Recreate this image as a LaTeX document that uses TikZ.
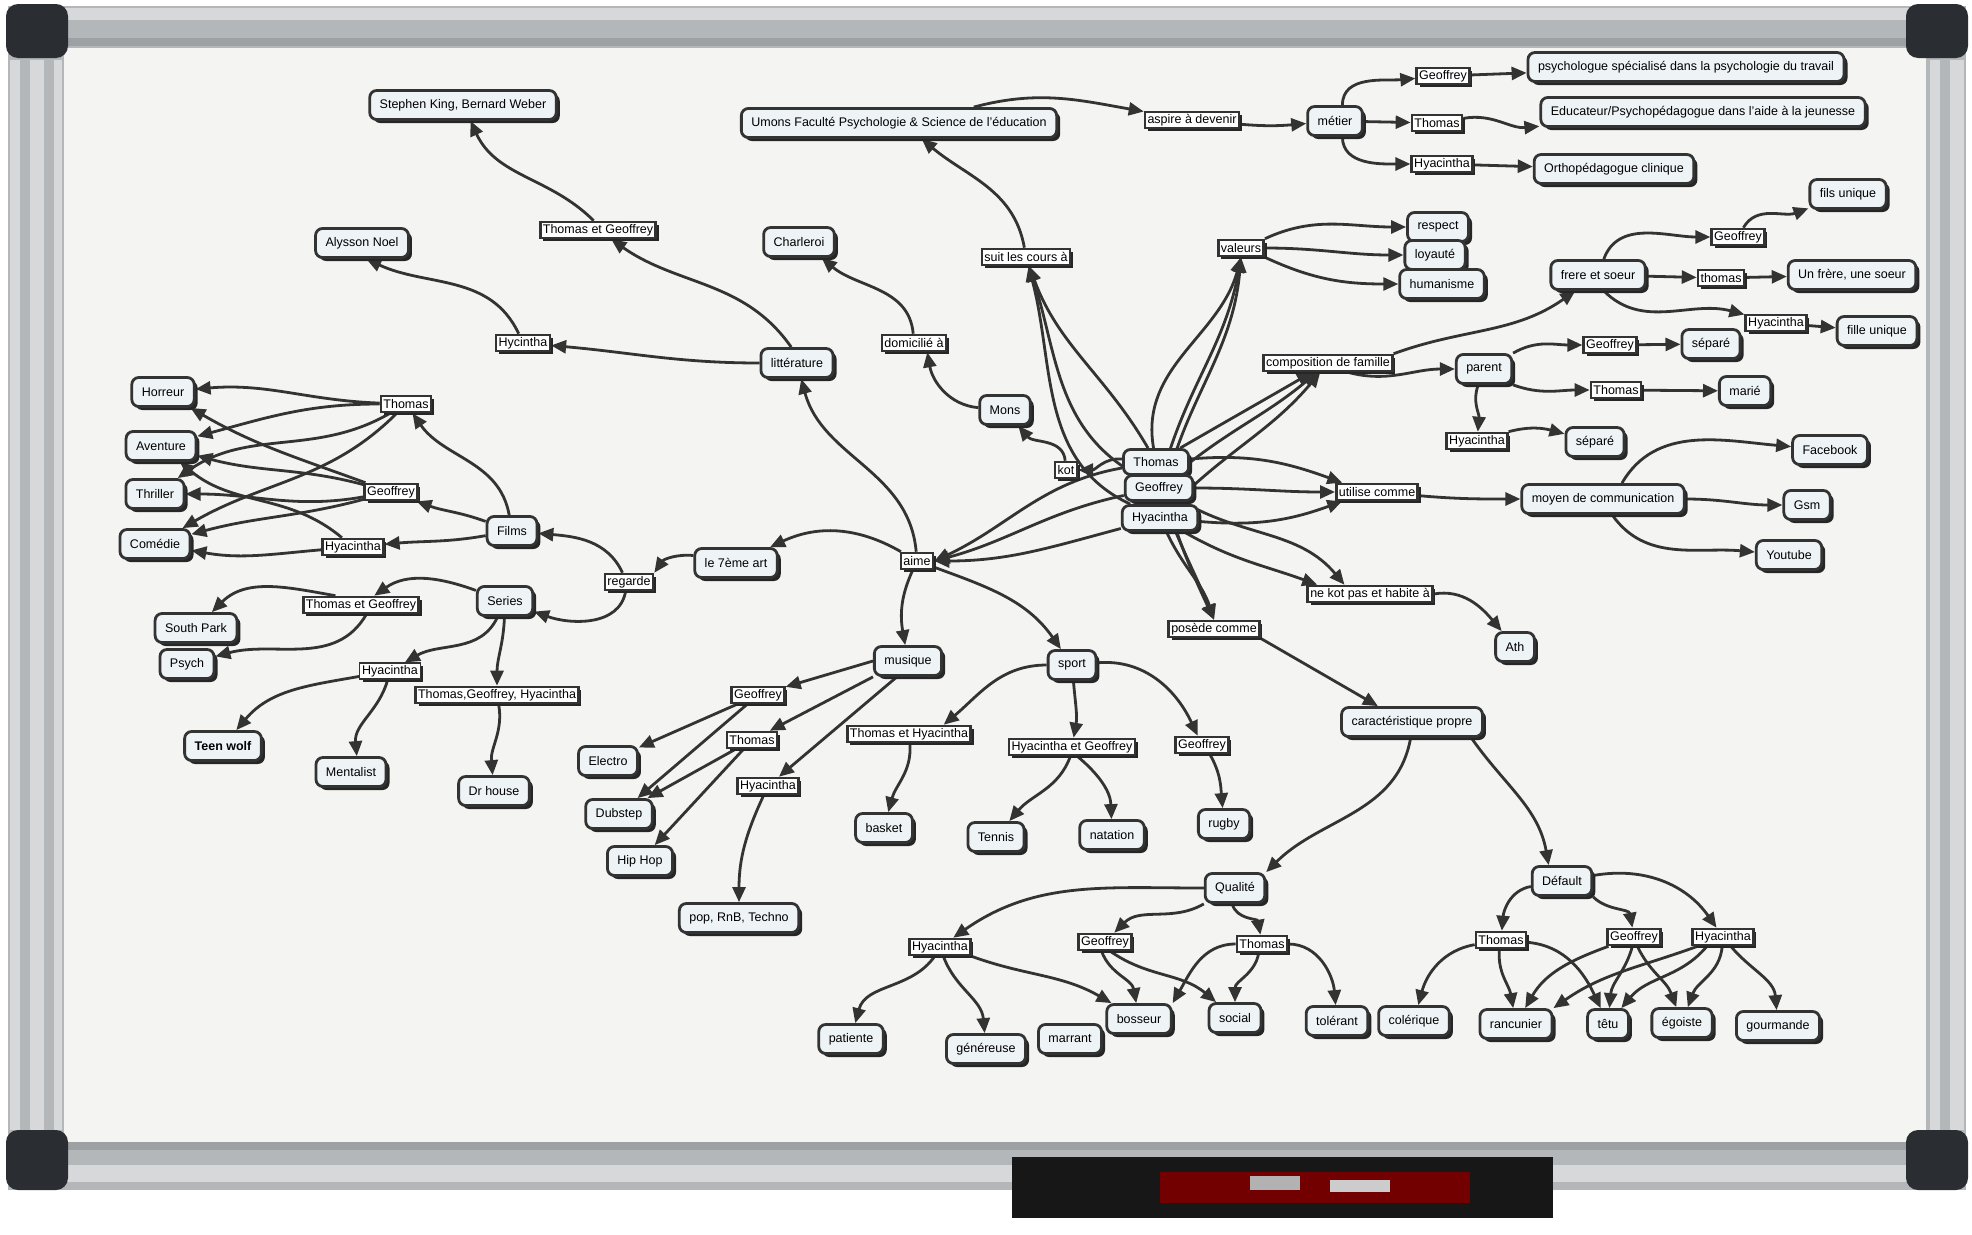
\documentclass[tikz,border=0pt]{standalone}
\usepackage{fontspec}
\setmainfont{Liberation Sans}
\usetikzlibrary{arrows.meta,shadows}
\definecolor{ln}{HTML}{333333}
\definecolor{cf}{HTML}{EEF3F6}
\definecolor{bd}{HTML}{F4F4F2}
\definecolor{sh}{HTML}{262626}
\definecolor{fra}{HTML}{B3B7BA}
\definecolor{frb}{HTML}{D6D8D9}
\definecolor{frc}{HTML}{9DA1A4}
\definecolor{cn}{HTML}{2A2D31}
\definecolor{tray}{HTML}{171717}
\newcommand{\myfont}{\fontsize{12.5}{14}\selectfont}
\pgfdeclarelayer{board}
\pgfdeclarelayer{edges}
\pgfsetlayers{board,edges,main}
\tikzset{
  con/.style={draw=ln, line width=2.8pt, fill=cf, rounded corners=7pt, inner xsep=10pt, inner ysep=2pt, minimum height=29pt, font=\myfont, text=black,
    drop shadow={shadow xshift=3.5pt,shadow yshift=-3.5pt,fill=sh,opacity=1}},
  lk/.style={draw=ln, line width=2.6pt, fill=white, inner xsep=2.5pt, inner ysep=1.5pt, minimum height=16pt, font=\myfont, text=black,
    drop shadow={shadow xshift=3pt,shadow yshift=-3pt,fill=sh,opacity=1}},
  lkthin/.style={lk, line width=1.2pt},
  cen/.style={con, minimum height=25pt},
  ar/.style={draw=ln, line width=2.8pt, -{Triangle[length=15pt,width=13pt]}}
}
\begin{document}
\begin{tikzpicture}[x=1pt,y=1pt]
\useasboundingbox (0,0) rectangle (1972,-1234);
\begin{pgfonlayer}{board}
\fill[white] (0,0) rectangle (1972,-1234);
\fill[fra] (8,-6) rectangle (1966,-1190);
\fill[frb] (60,-8) rectangle (1910,-20);
\fill[frc] (60,-38) rectangle (1910,-46);
\fill[frb] (10,-60) rectangle (20,-1130);
\fill[frb] (30,-60) rectangle (44,-1130);
\fill[frb] (54,-60) rectangle (62,-1130);
\fill[frb] (1930,-60) rectangle (1940,-1130);
\fill[frb] (1950,-60) rectangle (1964,-1130);
\fill[frc] (60,-1142) rectangle (1910,-1150);
\fill[frb] (60,-1165) rectangle (1910,-1182);
\fill[bd] (64,-48) rectangle (1926,-1142);
\fill[cn, rounded corners=12pt] (6,-4) rectangle (68,-58);
\fill[cn, rounded corners=12pt] (1906,-4) rectangle (1968,-58);
\fill[cn, rounded corners=12pt] (6,-1130) rectangle (68,-1190);
\fill[cn, rounded corners=12pt] (1906,-1130) rectangle (1968,-1190);
\fill[tray] (1012,-1157) rectangle (1553,-1218);
\fill[red!45!black] (1160,-1172) rectangle (1470,-1203);
\fill[gray!60] (1250,-1176) rectangle (1300,-1190);
\fill[gray!40] (1330,-1180) rectangle (1390,-1192);
\end{pgfonlayer}

% ---------- nodes ----------
\node[con] (sk) at (463,-105) {Stephen King, Bernard Weber};
\node[lk] (teg1) at (598,-230) {Thomas et Geoffrey};
\node[con] (an) at (362,-243) {Alysson Noel};
\node[lk] (hyc) at (523,-343) {Hycintha};
\node[con] (lit) at (797,-363) {littérature};
\node[con] (cha) at (799,-242) {Charleroi};
\node[lk] (dom) at (914,-343) {domicilié à};
\node[con] (mons) at (1005,-410) {Mons};
\node[lk] (kot) at (1066,-470) {kot};
\node[lk] (suit) at (1026,-257) {suit les cours à};
\node[con] (um) at (899,-123) {Umons Faculté Psychologie \& Science de l'éducation};
\node[lk] (asp) at (1192,-120) {aspire à devenir};
\node[con] (met) at (1335,-121) {métier};
\node[lk] (gm1) at (1443,-76) {Geoffrey};
\node[lk] (tm1) at (1437,-123) {Thomas};
\node[lk] (hm1) at (1442,-164) {Hyacintha};
\node[con] (psy1) at (1686,-67) {psychologue spécialisé dans la psychologie du travail};
\node[con] (edu) at (1703,-112) {Educateur/Psychopédagogue dans l'aide à la jeunesse};
\node[con] (ort) at (1614,-169) {Orthopédagogue clinique};
\node[lk] (val) at (1241,-248) {valeurs};
\node[con] (res) at (1438,-227) {respect};
\node[con] (loy) at (1435,-255) {loyauté};
\node[con] (hum) at (1442,-284) {humanisme};
\node[lk] (comp) at (1328,-363) {composition de famille};
\node[con] (fs) at (1598,-275) {frere et soeur};
\node[lk] (gfr) at (1738,-237) {Geoffrey};
\node[con] (fils) at (1848,-194) {fils unique};
\node[lk] (tfr) at (1721,-278) {thomas};
\node[con] (ufs) at (1852,-275) {Un frère, une soeur};
\node[lk] (hfr) at (1776,-323) {Hyacintha};
\node[con] (fu) at (1877,-331) {fille unique};
\node[con] (par) at (1484,-369) {parent};
\node[lk] (gp) at (1610,-345) {Geoffrey};
\node[con] (sep1) at (1711,-344) {séparé};
\node[lk] (tp) at (1616,-390) {Thomas};
\node[con] (mar) at (1745,-391) {marié};
\node[lk] (hyp) at (1477,-441) {Hyacintha};
\node[con] (sep2) at (1595,-442) {séparé};
\node[cen] (tc) at (1156,-462) {Thomas};
\node[cen] (gc) at (1159,-488) {Geoffrey};
\node[cen] (hc) at (1160,-518) {Hyacintha};
\node[lk] (ut) at (1377,-492) {utilise comme};
\node[con] (moy) at (1603,-499) {moyen de communication};
\node[con] (fb) at (1830,-450) {Facebook};
\node[con] (gsm) at (1807,-505) {Gsm};
\node[con] (yt) at (1789,-555) {Youtube};
\node[lk] (nkp) at (1370,-594) {ne kot pas et habite à};
\node[con] (ath) at (1515,-647) {Ath};
\node[lk] (pos) at (1214,-629) {posède comme};
\node[con] (car) at (1412,-722) {caractéristique propre};
\node[lk] (aime) at (917,-561) {aime};
\node[con] (art) at (736,-563) {le 7ème art};
\node[lk] (reg) at (629,-582) {regarde};
\node[con] (films) at (512,-531) {Films};
\node[lk] (thf) at (406,-404) {Thomas};
\node[lk] (gf) at (391,-492) {Geoffrey};
\node[lk] (hf) at (353,-547) {Hyacintha};
\node[con] (hor) at (163,-392) {Horreur};
\node[con] (av) at (161,-446) {Aventure};
\node[con] (thr) at (155,-494) {Thriller};
\node[con] (com) at (155,-544) {Comédie};
\node[con] (ser) at (505,-601) {Series};
\node[lk] (tgs) at (361,-605) {Thomas et Geoffrey};
\node[con] (sp) at (196,-628) {South Park};
\node[con] (psy) at (187,-664) {Psych};
\node[lkthin] (hys) at (390,-671) {Hyacintha};
\node[lk] (tgh) at (497,-695) {Thomas,Geoffrey, Hyacintha};
\node[con, font=\myfont\bfseries] (tw) at (223,-746) {Teen wolf};
\node[con] (men) at (351,-772) {Mentalist};
\node[con] (drh) at (494,-791) {Dr house};
\node[con] (mus) at (908,-661) {musique};
\node[lk] (gm) at (758,-695) {Geoffrey};
\node[lk] (tm) at (752,-740) {Thomas};
\node[lk] (hym) at (768,-786) {Hyacintha};
\node[con] (el) at (608,-761) {Electro};
\node[con] (db) at (619,-814) {Dubstep};
\node[con] (hh) at (640,-861) {Hip Hop};
\node[con] (pop) at (739,-918) {pop, RnB, Techno};
\node[con] (spo) at (1072,-665) {sport};
\node[lk] (teh) at (909,-734) {Thomas et Hyacintha};
\node[con] (bas) at (884,-828) {basket};
\node[lk] (heg) at (1072,-747) {Hyacintha et Geoffrey};
\node[con] (ten) at (996,-837) {Tennis};
\node[con] (nat) at (1112,-835) {natation};
\node[lk] (gs) at (1202,-745) {Geoffrey};
\node[con] (rug) at (1224,-824) {rugby};
\node[con] (qual) at (1235,-888) {Qualité};
\node[lk] (hq) at (940,-947) {Hyacintha};
\node[lk] (gq) at (1105,-942) {Geoffrey};
\node[lk] (tq) at (1262,-944) {Thomas};
\node[con] (pat) at (851,-1039) {patiente};
\node[con] (gen) at (986,-1049) {généreuse};
\node[con] (marr) at (1070,-1039) {marrant};
\node[con] (bos) at (1139,-1019) {bosseur};
\node[con] (soc) at (1235,-1018) {social};
\node[con] (tol) at (1337,-1021) {tolérant};
\node[con] (def) at (1562,-881) {Défault};
\node[lk] (td) at (1501,-940) {Thomas};
\node[lk] (gd) at (1634,-937) {Geoffrey};
\node[lk] (hd) at (1723,-937) {Hyacintha};
\node[con] (col) at (1414,-1021) {colérique};
\node[con] (ran) at (1516,-1024) {rancunier};
\node[con] (tet) at (1608,-1024) {têtu};
\node[con] (ego) at (1682,-1023) {égoiste};
\node[con] (gou) at (1778,-1026) {gourmande};

% ---------- edges ----------
\begin{pgfonlayer}{edges}
% literature
\draw[ar] (aime) to[out=95,in=-75] (lit);
\draw[ar] (lit) to[out=180,in=-5] (hyc);
\draw[ar] (lit.110) to[out=125,in=-35] (teg1);
\draw[ar] (hyc) to[out=115,in=-25] (an.-75);
\draw[ar] (teg1.115) to[out=135,in=-65] (sk);
% 7eme art
\draw[ar] (aime) to[out=150,in=25] (art);
\draw[ar] (art.170) to[out=175,in=55] (reg.north east);
\draw[ar] (reg.125) to[out=115,in=-5] (films);
\draw[ar] (reg.-110) to[out=-100,in=-20] (ser);
% films
\draw[ar] (films) to[out=100,in=-55] (thf);
\draw[ar] (films) to[out=160,in=-20] (gf);
\draw[ar] (films) to[out=190,in=5] (hf);
\draw[ar] (thf) to[out=178,in=5] (hor);
\draw[ar] (thf) to[out=180,in=15] (av);
\draw[ar] (thf) to[out=-150,in=35] (thr);
\draw[ar] (thf) to[out=-135,in=30] (com);
\draw[ar] (gf) to[out=160,in=-30] (hor);
\draw[ar] (gf) to[out=165,in=-15] (av);
\draw[ar] (gf) to[out=190,in=0] (thr);
\draw[ar] (gf) to[out=195,in=15] (com);
\draw[ar] (hf) to[out=140,in=-40] (av);
\draw[ar] (hf) to[out=185,in=-10] (com);
% series
\draw[ar] (ser) to[out=160,in=35] (tgs);
\draw[ar] (tgs.160) to[out=170,in=45] (sp);
\draw[ar] (tgs.-60) to[out=-120,in=15] (psy);
\draw[ar] (ser) to[out=-115,in=30] (hys);
\draw[ar] (ser) to[out=-92,in=90] (tgh);
\draw[ar] (hys) to[out=190,in=50] (tw);
\draw[ar] (hys) to[out=-105,in=95] (men.70);
\draw[ar] (tgh) to[out=-80,in=95] (drh);
% music
\draw[ar] (aime) to[out=-115,in=100] (mus);
\draw[ar] (mus.west) -- (gm);
\draw[ar] (mus.south west) -- (tm);
\draw[ar] (mus.-125) -- (hym);
\draw[ar] (gm) -- (el);
\draw[ar] (gm) -- (db);
\draw[ar] (tm) -- (db);
\draw[ar] (tm) -- (hh);
\draw[ar] (hym) to[out=-115,in=90] (pop);
% sport
\draw[ar] (aime) to[out=-20,in=125] (spo);
\draw[ar] (spo) to[out=180,in=40] (teh.15);
\draw[ar] (teh) to[out=-85,in=75] (bas);
\draw[ar] (spo) to[out=-85,in=80] (heg);
\draw[ar] (heg.-100) to[out=-110,in=50] (ten);
\draw[ar] (heg.-60) to[out=-40,in=92] (nat);
\draw[ar] (spo) to[out=5,in=115] (gs);
\draw[ar] (gs.-50) to[out=-60,in=95] (rug);
% central persons
\draw[ar] (tc) to[out=190,in=25] (aime.east);
\draw[ar] (gc) to[out=192,in=15] (aime.east);
\draw[ar] (hc) to[out=195,in=0] (aime.east);
\draw[ar] (tc) to[out=175,in=0] (kot);
\draw[ar] (kot) to[out=95,in=-50] (mons);
\draw[ar] (mons) to[out=175,in=-80] (dom.-35);
\draw[ar] (dom) to[out=95,in=-40] (cha.-35);
\draw[ar] (tc) to[out=120,in=-70] (suit);
\draw[ar] (gc) to[out=150,in=-72] (suit);
\draw[ar] (hc) to[out=155,in=-75] (suit);
\draw[ar] (suit) to[out=100,in=-40] (um.-35);
\draw[ar] (um.12) to[out=15,in=170] (asp);
\draw[ar] (asp) to[out=-5,in=185] (met);
\draw[ar] (met.65) to[out=90,in=185] (gm1);
\draw[ar] (met) -- (tm1);
\draw[ar] (met.-65) to[out=-90,in=180] (hm1);
\draw[ar] (gm1) -- (psy1);
\draw[ar] (tm1) to[out=10,in=185] (edu);
\draw[ar] (hm1) -- (ort);
% valeurs
\draw[ar] (tc) to[out=100,in=-105] (val.south);
\draw[ar] (gc) to[out=75,in=-100] (val.south);
\draw[ar] (hc) to[out=80,in=-95] (val.south);
\draw[ar] (val.north east) to[out=25,in=180] (res);
\draw[ar] (val) to[out=0,in=180] (loy);
\draw[ar] (val.south east) to[out=-25,in=180] (hum);
% composition de famille
\draw[ar] (tc) to[out=30,in=-150] (comp.-150);
\draw[ar] (gc) to[out=40,in=-140] (comp.-140);
\draw[ar] (hc) to[out=45,in=-130] (comp.-130);
\draw[ar] (comp.north east) to[out=20,in=-145] (fs);
\draw[ar] (comp.-25) to[out=-15,in=180] (par);
\draw[ar] (fs.70) to[out=70,in=180] (gfr);
\draw[ar] (gfr.60) to[out=60,in=200] (fils);
\draw[ar] (fs) -- (tfr);
\draw[ar] (tfr) -- (ufs);
\draw[ar] (fs.-70) to[out=-45,in=165] (hfr);
\draw[ar] (hfr) -- (fu);
\draw[ar] (par.north east) to[out=30,in=180] (gp);
\draw[ar] (gp) -- (sep1);
\draw[ar] (par.south east) to[out=-20,in=180] (tp);
\draw[ar] (tp) -- (mar);
\draw[ar] (par.-110) to[out=-110,in=85] (hyp);
\draw[ar] (hyp.north east) to[out=15,in=165] (sep2);
% utilise comme
\draw[ar] (tc) to[out=5,in=160] (ut.165);
\draw[ar] (gc) to[out=0,in=180] (ut.west);
\draw[ar] (hc) to[out=-5,in=-160] (ut.-165);
\draw[ar] (ut) to[out=-5,in=180] (moy);
\draw[ar] (moy.40) to[out=60,in=175] (fb);
\draw[ar] (moy) to[out=0,in=180] (gsm);
\draw[ar] (moy.-60) to[out=-55,in=175] (yt);
% ne kot pas
\draw[ar] (gc) to[out=-30,in=130] (nkp.160);
\draw[ar] (hc) to[out=-30,in=160] (nkp.170);
\draw[ar] (nkp.east) to[out=10,in=130] (ath);
% possede comme
\draw[ar] (tc) to[out=-75,in=115] (pos.north);
\draw[ar] (gc) to[out=-70,in=112] (pos.north);
\draw[ar] (hc) to[out=-65,in=108] (pos.north);
\draw[ar] (pos.south east) to[out=-30,in=150] (car.155);
\draw[ar] (car.-95) to[out=-100,in=45] (qual.north east);
\draw[ar] (car.-15) to[out=-55,in=100] (def.130);
% qualite
\draw[ar] (qual) to[out=180,in=35] (hq);
\draw[ar] (qual.south west) to[out=-150,in=45] (gq);
\draw[ar] (qual.-100) to[out=-75,in=100] (tq);
\draw[ar] (hq.-120) to[out=-125,in=75] (pat);
\draw[ar] (hq.-70) to[out=-70,in=95] (gen);
\draw[ar] (hq.south east) to[out=-20,in=150] (bos);
\draw[ar] (gq.-110) to[out=-70,in=100] (bos);
\draw[ar] (gq.-60) to[out=-35,in=140] (soc);
\draw[ar] (tq) to[out=180,in=60] (bos.north east);
\draw[ar] (tq.-110) to[out=-100,in=90] (soc);
\draw[ar] (tq) to[out=0,in=95] (tol);
% defaut
\draw[ar] (def) to[out=190,in=85] (td);
\draw[ar] (def.south east) to[out=-45,in=100] (gd);
\draw[ar] (def) to[out=10,in=125] (hd);
\draw[ar] (td) to[out=190,in=75] (col);
\draw[ar] (td.-100) to[out=-95,in=100] (ran);
\draw[ar] (td) to[out=-5,in=115] (tet);
\draw[ar] (gd) to[out=200,in=60] (ran);
\draw[ar] (gd.-100) to[out=-105,in=85] (tet);
\draw[ar] (gd.-70) to[out=-65,in=110] (ego);
\draw[ar] (hd) to[out=200,in=35] (ran.north east);
\draw[ar] (hd.-150) to[out=-130,in=50] (tet);
\draw[ar] (hd.-95) to[out=-95,in=70] (ego);
\draw[ar] (hd.-50) to[out=-50,in=95] (gou);
\end{pgfonlayer}
\end{tikzpicture}
\end{document}
